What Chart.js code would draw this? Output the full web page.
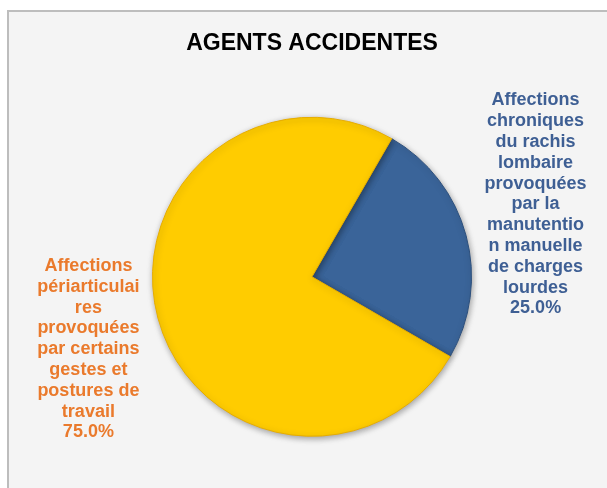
<!DOCTYPE html>
<html>
<head>
<meta charset="utf-8">
<script src="https://cdn.jsdelivr.net/npm/chart.js@4/dist/chart.umd.min.js"></script>
<style>
  html, body { margin: 0; padding: 0; background: #ffffff; }
  #wrap { position: relative; width: 607px; height: 488px; overflow: hidden; }
  #frame { position: absolute; left: 7px; top: 10px; width: 640px; height: 520px;
           background: #f4f4f4; border: 2px solid #bdbdbd; box-sizing: border-box; }
  canvas { position: absolute; left: 0; top: 0; }
</style>
</head>
<body>
<div id="wrap">
  <div id="frame"></div>
  <canvas id="c" width="607" height="488"></canvas>
</div>
<script>
const chartTitle = "AGENTS ACCIDENTES";
const categories = [
  ["Affections", "chroniques", "du rachis", "lombaire", "provoquées", "par la", "manutentio", "n manuelle", "de charges", "lourdes"],
  ["Affections", "périarticulai", "res", "provoquées", "par certains", "gestes et", "postures de", "travail"]
];
const values = [25, 75];
const sliceColors = ["#3a6499", "#ffcc00"];
const sliceRims = ["#4b76ab", "#ffdc2a"];
const sliceEdges = ["#2c4f7c", "#e6ac00"];
const labelColors = ["#3e5f94", "#ea7a2c"];

function sliceFill(context) {
  const i = context.dataIndex;
  const chart = context.chart;
  const arc = chart.getDatasetMeta(0).data[i];
  if (!arc || !arc.outerRadius) return sliceColors[i];
  const g = chart.ctx.createRadialGradient(arc.x, arc.y, 0, arc.x, arc.y, arc.outerRadius);
  g.addColorStop(0, sliceColors[i]);
  g.addColorStop(0.90, sliceColors[i]);
  g.addColorStop(0.96, sliceRims[i]);
  g.addColorStop(1, sliceEdges[i]);
  return g;
}

const outerLabels = {
  id: "outerLabels",
  afterDatasetsDraw(chart) {
    const ctx = chart.ctx;
    const meta = chart.getDatasetMeta(0);
    const total = values.reduce((a, b) => a + b, 0);
    ctx.save();
    ctx.font = "bold 18px 'Liberation Sans', Arial, sans-serif";
    ctx.textAlign = "center";
    ctx.textBaseline = "middle";
    meta.data.forEach((arc, i) => {
      const mid = (arc.startAngle + arc.endAngle) / 2;
      const cx = arc.x + Math.cos(mid) * (arc.outerRadius + 72);
      const cy = arc.y + Math.sin(mid) * (arc.outerRadius + 120);
      const lines = categories[i].concat([(values[i] / total * 100).toFixed(1) + "%"]);
      const lh = 20.8;
      const top = cy - (lines.length - 1) * lh / 2;
      ctx.fillStyle = labelColors[i];
      lines.forEach((t, k) => ctx.fillText(t, cx, top + k * lh));
    });
    ctx.restore();
  }
};

const shadow = {
  id: "shadow",
  beforeDatasetsDraw(chart) {
    const ctx = chart.ctx;
    ctx.save();
    ctx.shadowColor = "rgba(0,0,0,0.35)";
    ctx.shadowBlur = 6;
    ctx.shadowOffsetX = 1;
    ctx.shadowOffsetY = 2;
  },
  afterDatasetsDraw(chart) {
    chart.ctx.restore();
  }
};

new Chart(document.getElementById("c"), {
  type: "pie",
  data: {
    labels: categories,
    datasets: [{
      data: values,
      backgroundColor: sliceFill,
      borderColor: sliceEdges,
      borderWidth: 1
    }]
  },
  options: {
    responsive: false,
    animation: false,
    rotation: 30,
    layout: { padding: { left: 152, right: 135, top: 0, bottom: 51 } },
    plugins: {
      legend: { display: false },
      tooltip: { enabled: false },
      title: {
        display: true,
        text: chartTitle,
        color: "#000000",
        font: { family: "'Liberation Sans', Arial, sans-serif", size: 23, weight: "bold", lineHeight: 1.2 },
        padding: { top: 30, bottom: 59 }
      }
    }
  },
  plugins: [shadow, outerLabels]
});
</script>
</body>
</html>
